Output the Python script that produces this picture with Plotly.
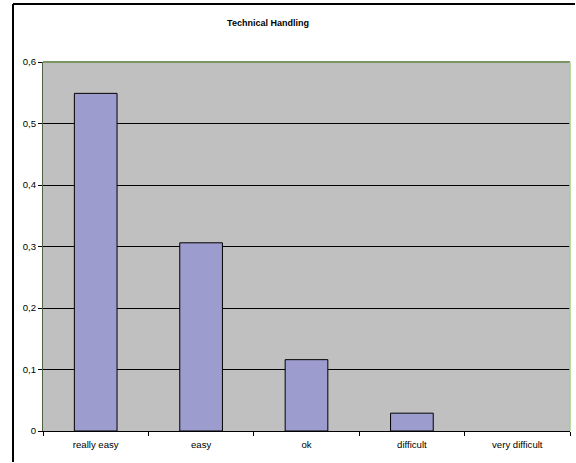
import plotly.graph_objects as go

# Share of responses per rating
categories = ["really easy", "easy", "ok", "difficult", "very difficult"]
shares = [0.549, 0.306, 0.116, 0.029, 0.0]

# Y axis ticks, written with a decimal comma
y_tickvals = [0, 0.1, 0.2, 0.3, 0.4, 0.5, 0.6]
y_ticktext = ["0", "0,1", "0,2", "0,3", "0,4", "0,5", "0,6"]

W, H = 576, 463
ml, mr, mt, mb = 43, 6, 62, 32
pw = W - ml - mr
ph = H - mt - mb

font = dict(family="Liberation Sans, Arial, sans-serif", size=9.6, color="black")

# empty categories get no outline so nothing shows on the axis
outline_widths = [1 if v > 0 else 0 for v in shares]

fig = go.Figure(
    go.Bar(
        x=categories,
        y=shares,
        width=0.405,
        marker=dict(color="#9C9CCE", line=dict(color="black", width=outline_widths)),
        hoverinfo="x+y",
    )
)


def px_to_paper_x(px):
    return (px - ml) / pw


def px_to_paper_y(py):
    return (H - mb - py) / ph


shapes = [
    # outer chart frame: only its top and left edges fall inside the page
    dict(type="line", xref="paper", yref="paper",
         x0=px_to_paper_x(13), x1=px_to_paper_x(W - 1),
         y0=px_to_paper_y(4), y1=px_to_paper_y(4),
         line=dict(color="black", width=2), layer="below"),
    dict(type="line", xref="paper", yref="paper",
         x0=px_to_paper_x(13), x1=px_to_paper_x(13),
         y0=px_to_paper_y(H - 1), y1=px_to_paper_y(4),
         line=dict(color="black", width=2), layer="below"),
    # plot-area frame: dark olive top, light green right edge
    dict(type="line", xref="paper", yref="paper", x0=0, x1=1, y0=1, y1=1,
         line=dict(color="#7B9463", width=2)),
    dict(type="line", xref="paper", yref="paper", x0=1, x1=1, y0=0, y1=1,
         line=dict(color="#A6D08A", width=1.5)),
]

fig.update_layout(
    width=W,
    height=H,
    margin=dict(l=ml, r=mr, t=mt, b=mb, pad=0),
    paper_bgcolor="white",
    plot_bgcolor="#C0C0C0",
    font=font,
    showlegend=False,
    title=dict(
        text="<b>Technical Handling</b>",
        x=268 / W, xanchor="center", xref="container",
        y=1 - 23 / H, yanchor="middle", yref="container",
        font=dict(family="Liberation Sans, Arial, sans-serif", size=9, color="black"),
    ),
    bargap=0.595,
    shapes=shapes,
    xaxis=dict(
        type="category",
        showgrid=False,
        showline=True, linecolor="black", linewidth=1.3,
        ticks="outside", tickson="boundaries", ticklen=4, tickcolor="black",
        tickfont=font,
        ticklabelstandoff=4,
        zeroline=False,
        fixedrange=True,
    ),
    yaxis=dict(
        range=[0, 0.6],
        tickvals=y_tickvals,
        ticktext=y_ticktext,
        showgrid=True, gridcolor="black", gridwidth=1,
        showline=True, linecolor="#4F5F45", linewidth=1,
        ticks="outside", ticklen=4, tickcolor="black",
        tickfont=font,
        zeroline=False,
        fixedrange=True,
    ),
)

fig.write_html("out.html")
